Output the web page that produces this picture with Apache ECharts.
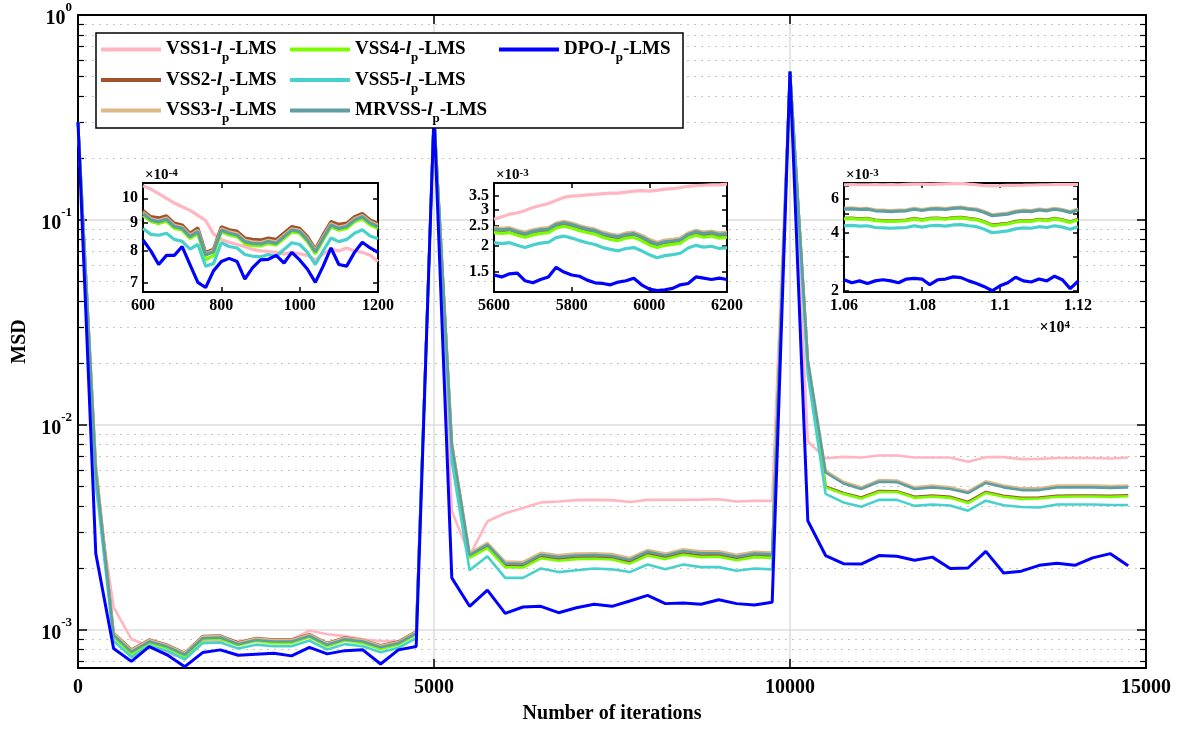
<!DOCTYPE html>
<html><head><meta charset="utf-8">
<script src="https://cdn.jsdelivr.net/npm/echarts@6/dist/echarts.min.js"></script>
<style>html,body{margin:0;padding:0;background:#fff}#c{width:1179px;height:729px}</style>
</head><body><div id="c"></div>
<script>
// ---------------- DATA ----------------
const seriesNames = ['VSS1','VSS2','VSS3','VSS4','VSS5','MRVSS','DPO'];
const seriesColors = ['#FFB6C1','#A0522D','#DEB887','#7CFC00','#48D1CC','#5F9EA0','#0000FF'];

const iterMain = Array.from({length:60}, (_, i) => i * 250);
const xTicksMain = [0, 5000, 10000, 15000];
const yMajorMain = [1e-3, 1e-2, 1e-1, 1];
const yMinorMain = [7e-4,8e-4,9e-4,2e-3,3e-3,4e-3,5e-3,6e-3,7e-3,8e-3,9e-3,2e-2,3e-2,4e-2,5e-2,6e-2,7e-2,8e-2,9e-2,0.2,0.3,0.4,0.5,0.6,0.7,0.8,0.9];

const mainVSS1 = [0.3,5.0e-3,1.29e-3,9.0e-4,8.3e-4,7.7e-4,7.25e-4,8.8e-4,8.8e-4,8.8e-4,8.95e-4,8.97e-4,8.95e-4,9.9e-4,9.5e-4,9.3e-4,8.97e-4,8.8e-4,8.8e-4,9.4e-4,
 0.33,3.8e-3,2.3e-3,3.38e-3,3.7e-3,3.92e-3,4.18e-3,4.22e-3,4.29e-3,4.3e-3,4.29e-3,4.2e-3,4.3e-3,4.3e-3,4.3e-3,4.31e-3,4.33e-3,4.22e-3,4.25e-3,4.25e-3,
 0.53,8.3e-3,6.86e-3,6.97e-3,6.92e-3,7.08e-3,7.08e-3,6.92e-3,6.92e-3,6.92e-3,6.6e-3,6.95e-3,6.95e-3,6.8e-3,6.82e-3,6.88e-3,6.88e-3,6.88e-3,6.84e-3,6.92e-3];
const mainVSS2 = [0.3,6.2e-3,9.65e-4,8.0e-4,8.95e-4,8.45e-4,7.7e-4,9.3e-4,9.35e-4,8.65e-4,9.1e-4,8.95e-4,8.95e-4,9.5e-4,8.6e-4,9.15e-4,8.9e-4,8.4e-4,8.75e-4,9.8e-4,
 0.33,8.1e-3,2.28e-3,2.55e-3,2.06e-3,2.05e-3,2.27e-3,2.21e-3,2.25e-3,2.26e-3,2.24e-3,2.14e-3,2.34e-3,2.25e-3,2.36e-3,2.3e-3,2.31e-3,2.22e-3,2.3e-3,2.28e-3,
 0.53,2.05e-2,5.0e-3,4.65e-3,4.42e-3,4.75e-3,4.74e-3,4.45e-3,4.52e-3,4.45e-3,4.2e-3,4.7e-3,4.5e-3,4.4e-3,4.42e-3,4.5e-3,4.52e-3,4.52e-3,4.5e-3,4.53e-3];
const mainVSS3 = [0.3,6.5e-3,9.6e-4,7.95e-4,8.9e-4,8.4e-4,7.65e-4,9.25e-4,9.3e-4,8.6e-4,9.05e-4,8.9e-4,8.9e-4,9.45e-4,8.55e-4,9.1e-4,8.9e-4,8.35e-4,8.7e-4,9.75e-4,
 0.33,8.3e-3,2.36e-3,2.65e-3,2.15e-3,2.14e-3,2.37e-3,2.31e-3,2.35e-3,2.36e-3,2.34e-3,2.24e-3,2.45e-3,2.35e-3,2.47e-3,2.41e-3,2.41e-3,2.32e-3,2.4e-3,2.38e-3,
 0.53,2.1e-2,5.95e-3,5.27e-3,4.95e-3,5.37e-3,5.35e-3,4.95e-3,5.05e-3,4.95e-3,4.73e-3,5.3e-3,5.05e-3,4.9e-3,4.9e-3,5.05e-3,5.05e-3,5.05e-3,5.02e-3,5.05e-3];
const mainVSS4 = [0.3,5.8e-3,9.2e-4,7.6e-4,8.6e-4,8.15e-4,7.4e-4,8.95e-4,9.0e-4,8.4e-4,8.8e-4,8.6e-4,8.6e-4,9.2e-4,8.3e-4,8.85e-4,8.6e-4,8.05e-4,8.45e-4,9.45e-4,
 0.33,7.5e-3,2.24e-3,2.5e-3,2.02e-3,2.01e-3,2.23e-3,2.17e-3,2.21e-3,2.22e-3,2.2e-3,2.1e-3,2.3e-3,2.21e-3,2.32e-3,2.26e-3,2.27e-3,2.18e-3,2.26e-3,2.24e-3,
 0.53,1.9e-2,4.95e-3,4.6e-3,4.37e-3,4.7e-3,4.7e-3,4.4e-3,4.47e-3,4.4e-3,4.15e-3,4.65e-3,4.45e-3,4.35e-3,4.37e-3,4.45e-3,4.47e-3,4.47e-3,4.45e-3,4.48e-3];
const mainVSS5 = [0.3,5.2e-3,8.8e-4,7.35e-4,8.35e-4,7.9e-4,7.15e-4,8.6e-4,8.65e-4,8.1e-4,8.45e-4,8.3e-4,8.3e-4,8.85e-4,8.0e-4,8.5e-4,8.3e-4,7.75e-4,8.15e-4,9.1e-4,
 0.33,6.6e-3,1.95e-3,2.28e-3,1.79e-3,1.79e-3,1.99e-3,1.91e-3,1.95e-3,1.99e-3,1.97e-3,1.91e-3,2.08e-3,1.97e-3,2.08e-3,2.02e-3,2.02e-3,1.94e-3,1.99e-3,1.97e-3,
 0.53,1.75e-2,4.6e-3,4.18e-3,3.98e-3,4.3e-3,4.3e-3,4.02e-3,4.08e-3,4.04e-3,3.81e-3,4.26e-3,4.05e-3,3.97e-3,3.95e-3,4.08e-3,4.08e-3,4.08e-3,4.06e-3,4.06e-3];
const mainMRVSS = [0.3,6.0e-3,9.4e-4,7.8e-4,8.75e-4,8.27e-4,7.54e-4,9.08e-4,9.15e-4,8.49e-4,8.91e-4,8.75e-4,8.75e-4,9.31e-4,8.43e-4,8.97e-4,8.75e-4,8.2e-4,8.59e-4,9.6e-4,
 0.33,8.0e-3,2.31e-3,2.6e-3,2.1e-3,2.09e-3,2.32e-3,2.26e-3,2.3e-3,2.31e-3,2.29e-3,2.19e-3,2.4e-3,2.3e-3,2.42e-3,2.36e-3,2.36e-3,2.27e-3,2.35e-3,2.33e-3,
 0.53,2.05e-2,5.85e-3,5.17e-3,4.86e-3,5.27e-3,5.25e-3,4.86e-3,4.95e-3,4.86e-3,4.64e-3,5.2e-3,4.95e-3,4.8e-3,4.8e-3,4.95e-3,4.95e-3,4.95e-3,4.92e-3,4.95e-3];
const mainDPO = [0.3,2.35e-3,8.1e-4,7.0e-4,8.27e-4,7.54e-4,6.6e-4,7.73e-4,7.97e-4,7.5e-4,7.59e-4,7.67e-4,7.45e-4,8.2e-4,7.62e-4,7.9e-4,7.97e-4,6.8e-4,7.97e-4,8.27e-4,
 0.33,1.79e-3,1.30e-3,1.56e-3,1.2e-3,1.29e-3,1.30e-3,1.21e-3,1.28e-3,1.33e-3,1.30e-3,1.38e-3,1.47e-3,1.34e-3,1.35e-3,1.33e-3,1.40e-3,1.34e-3,1.32e-3,1.36e-3,
 0.53,3.4e-3,2.3e-3,2.1e-3,2.09e-3,2.3e-3,2.28e-3,2.18e-3,2.26e-3,1.99e-3,2.0e-3,2.41e-3,1.89e-3,1.93e-3,2.06e-3,2.11e-3,2.06e-3,2.24e-3,2.35e-3,2.05e-3];

// Inset 1: iterations 600..1200, values in x1e-4
const iterInset1 = Array.from({length:31}, (_, i) => 600 + i * 20);
const inset1YTicks = [7, 8, 9, 10];
const in1VSS1 = [10.55,10.4,10.2,10.0,9.8,9.65,9.5,9.3,9.1,8.6,8.4,8.3,8.22,8.15,8.05,8.0,7.98,7.95,7.9,7.95,7.9,7.85,7.7,7.9,8.05,8.0,8.1,8.0,7.95,7.85,7.65];
const in1VSS2 = [9.5,9.25,9.2,9.28,9.0,8.93,8.62,8.82,7.95,8.06,8.86,8.75,8.7,8.45,8.4,8.38,8.45,8.4,8.63,8.87,8.8,8.5,8.06,8.57,9.06,8.95,9.0,9.25,9.38,9.12,9.0];
const in1VSS3 = [9.43,9.17,9.1,9.2,8.92,8.85,8.55,8.73,7.9,8.01,8.79,8.67,8.61,8.37,8.31,8.29,8.37,8.31,8.55,8.79,8.73,8.43,8.02,8.49,8.98,8.85,8.92,9.17,9.3,9.05,8.92];
const in1VSS4 = [9.3,9.06,8.98,9.08,8.8,8.74,8.44,8.6,7.7,7.85,8.68,8.56,8.5,8.25,8.18,8.17,8.26,8.2,8.43,8.67,8.62,8.31,7.9,8.38,8.86,8.73,8.8,9.05,9.17,8.93,8.8];
const in1VSS5 = [8.8,8.58,8.55,8.62,8.4,8.33,8.06,8.22,7.5,7.58,8.28,8.15,8.1,7.88,7.82,7.8,7.88,7.82,8.05,8.28,8.22,7.95,7.55,8.0,8.45,8.32,8.4,8.62,8.75,8.52,8.42];
const in1MRVSS = [9.38,9.12,9.05,9.15,8.87,8.8,8.5,8.68,7.86,7.97,8.74,8.62,8.56,8.32,8.26,8.24,8.32,8.26,8.5,8.74,8.68,8.38,7.97,8.44,8.93,8.8,8.87,9.12,9.25,9.0,8.87];
const in1DPO = [8.38,8.0,7.55,7.85,7.85,8.15,7.55,7.0,6.85,7.35,7.65,7.75,7.65,7.1,7.45,7.7,7.72,7.85,7.6,7.95,7.7,7.4,7.0,7.5,8.1,7.55,7.5,7.95,8.3,8.1,7.95];

// Inset 2: iterations 5600..6200, values in x1e-3
const iterInset2 = Array.from({length:31}, (_, i) => 5600 + i * 20);
const inset2YTicks = [1.5, 2, 2.5, 3, 3.5];
const inset2YLabels = [1.5, 2, 2.5, 3];
const inset2YLabelsTop = [3.5];
const in2VSS1 = [2.7,2.78,2.86,2.9,2.98,3.08,3.15,3.22,3.33,3.45,3.5,3.52,3.55,3.57,3.6,3.62,3.62,3.66,3.7,3.72,3.7,3.73,3.78,3.8,3.85,3.9,3.93,3.95,3.97,3.97,4.0];
const in2VSS2 = [2.38,2.36,2.38,2.31,2.26,2.32,2.36,2.38,2.5,2.55,2.5,2.44,2.38,2.34,2.26,2.21,2.18,2.24,2.26,2.18,2.08,2.01,2.06,2.08,2.11,2.24,2.31,2.26,2.29,2.24,2.26];
const in2VSS3 = [2.46,2.44,2.46,2.39,2.34,2.4,2.44,2.46,2.59,2.64,2.59,2.52,2.46,2.42,2.34,2.29,2.26,2.32,2.34,2.26,2.16,2.09,2.14,2.16,2.19,2.32,2.39,2.34,2.37,2.32,2.34];
const in2VSS4 = [2.33,2.31,2.33,2.26,2.21,2.27,2.31,2.33,2.45,2.5,2.45,2.38,2.33,2.29,2.21,2.16,2.13,2.19,2.21,2.13,2.03,1.97,2.02,2.04,2.07,2.2,2.26,2.21,2.24,2.19,2.21];
const in2VSS5 = [2.08,2.06,2.08,2.02,1.97,2.03,2.07,2.09,2.2,2.24,2.19,2.13,2.08,2.04,1.97,1.93,1.9,1.95,1.97,1.9,1.82,1.76,1.8,1.82,1.85,1.96,2.02,1.98,2.0,1.95,1.97];
const in2MRVSS = [2.42,2.4,2.42,2.35,2.3,2.36,2.4,2.42,2.55,2.6,2.55,2.48,2.42,2.38,2.3,2.25,2.22,2.28,2.3,2.22,2.12,2.05,2.1,2.12,2.15,2.28,2.35,2.3,2.33,2.28,2.3];
const in2DPO = [1.45,1.42,1.47,1.48,1.36,1.33,1.38,1.42,1.58,1.5,1.45,1.43,1.37,1.33,1.32,1.3,1.34,1.36,1.4,1.3,1.24,1.22,1.23,1.25,1.3,1.32,1.42,1.4,1.38,1.4,1.38];

// Inset 3: iterations 10600..11200, values in x1e-3
const iterInset3 = Array.from({length:31}, (_, i) => 10600 + i * 20);
const inset3YTicks = [2, 3, 4, 5, 6, 7];
const inset3YLabels = [2, 4, 6];
const in3VSS1 = [7.1,7.12,7.1,7.1,7.11,7.1,7.12,7.1,7.13,7.15,7.15,7.14,7.16,7.18,7.2,7.22,7.15,7.1,7.02,7.0,7.02,7.05,7.05,7.06,7.08,7.1,7.1,7.12,7.12,7.12,7.12];
const in3VSS2 = [4.75,4.77,4.73,4.75,4.65,4.63,4.61,4.63,4.65,4.75,4.67,4.75,4.77,4.73,4.79,4.81,4.75,4.7,4.56,4.39,4.43,4.48,4.58,4.63,4.61,4.7,4.65,4.75,4.67,4.56,4.7];
const in3VSS3 = [5.36,5.38,5.34,5.36,5.26,5.24,5.21,5.24,5.26,5.36,5.28,5.36,5.38,5.34,5.41,5.44,5.36,5.31,5.16,4.96,5.01,5.06,5.18,5.24,5.21,5.31,5.26,5.36,5.28,5.16,5.31];
const in3VSS4 = [4.72,4.74,4.7,4.72,4.62,4.6,4.58,4.6,4.62,4.72,4.64,4.72,4.74,4.7,4.76,4.78,4.72,4.67,4.53,4.36,4.4,4.45,4.55,4.6,4.58,4.67,4.62,4.72,4.64,4.53,4.67];
const in3VSS5 = [4.35,4.37,4.33,4.35,4.26,4.24,4.22,4.24,4.26,4.35,4.28,4.35,4.37,4.33,4.39,4.41,4.35,4.3,4.17,4.0,4.04,4.09,4.19,4.24,4.22,4.3,4.26,4.35,4.28,4.17,4.3];
const in3MRVSS = [5.3,5.32,5.28,5.3,5.2,5.18,5.15,5.18,5.2,5.3,5.22,5.3,5.32,5.28,5.35,5.38,5.3,5.25,5.1,4.9,4.95,5.0,5.12,5.18,5.15,5.25,5.2,5.3,5.22,5.1,5.25];
const in3DPO = [2.28,2.2,2.25,2.18,2.25,2.28,2.25,2.2,2.3,2.32,2.3,2.15,2.28,2.3,2.36,2.34,2.25,2.18,2.1,2.0,2.12,2.2,2.35,2.25,2.22,2.3,2.25,2.38,2.28,2.05,2.24];

// ---------------- CHART ----------------
const FONT = 'Liberation Serif';
const mainData = [mainVSS1, mainVSS2, mainVSS3, mainVSS4, mainVSS5, mainMRVSS, mainDPO];
const in1Data = [in1VSS1, in1VSS2, in1VSS3, in1VSS4, in1VSS5, in1MRVSS, in1DPO];
const in2Data = [in2VSS1, in2VSS2, in2VSS3, in2VSS4, in2VSS5, in2MRVSS, in2DPO];
const in3Data = [in3VSS1, in3VSS2, in3VSS3, in3VSS4, in3VSS5, in3MRVSS, in3DPO];

const boldTxt = (size) => ({fontFamily: FONT, fontWeight: 'bold', fontSize: size, color: '#000'});
const blackLine = {show: true, lineStyle: {color: '#000', width: 2}};

const grids = [
  {left: 78, top: 15, width: 1068, height: 656},
  {left: 143, top: 183, width: 235, height: 109, show: true, backgroundColor: '#fff', borderWidth: 0, z: 1},
  {left: 494, top: 183, width: 233, height: 109, show: true, backgroundColor: '#fff', borderWidth: 0, z: 1},
  {left: 844, top: 183, width: 234, height: 109, show: true, backgroundColor: '#fff', borderWidth: 0, z: 1}
];

const xAxes = [
  {type: 'value', gridIndex: 0, min: 0, max: 15000, interval: 5000, position: 'bottom',
   axisLine: blackLine, axisTick: {show: true, inside: true, length: 9, lineStyle: {color: '#000', width: 1.5}},
   axisLabel: Object.assign({margin: 10, formatter: v => String(v)}, boldTxt(20)),
   splitLine: {show: true, lineStyle: {color: '#dcdcdc', width: 1.5}},
   name: 'Number of iterations', nameLocation: 'middle', nameGap: 36, nameTextStyle: boldTxt(20)},
  {type: 'value', gridIndex: 0, min: 0, max: 15000, interval: 5000, position: 'top',
   axisLine: blackLine, axisTick: {show: true, inside: true, length: 9, lineStyle: {color: '#000', width: 1.5}},
   axisLabel: {show: false}, splitLine: {show: false}}
];
function insetX(gi, min, max, fmt, name) {
  const common = {type: 'value', gridIndex: gi, min: min, max: max, interval: 200, z: 2,
    axisLine: blackLine, axisTick: {show: true, inside: true, length: 5, lineStyle: {color: '#000', width: 1.5}},
    splitLine: {show: false}};
  const bottom = Object.assign({}, common, {position: 'bottom',
    axisLabel: Object.assign({margin: 6, formatter: fmt, showMinLabel: true, showMaxLabel: true}, boldTxt(16))});
  if (name) {
    bottom.name = name; bottom.nameLocation = 'end'; bottom.nameGap = 0;
    bottom.nameTextStyle = {align: 'right', verticalAlign: 'top', padding: [28, 8, 0, 0],
      rich: {t: boldTxt(16), s: Object.assign({verticalAlign: 'top', lineHeight: 12}, boldTxt(11))}};
  }
  const top = Object.assign({}, common, {position: 'top', axisLabel: {show: false}});
  return [bottom, top];
}
xAxes.push(...insetX(1, 600, 1200, v => String(v)));
xAxes.push(...insetX(2, 5600, 6200, v => String(v)));
xAxes.push(...insetX(3, 10600, 11200, v => String(+(v / 1e4).toFixed(2)), '{t|×10}{s|4}'));

const supRich = {
  b: Object.assign({lineHeight: 28, verticalAlign: 'bottom'}, boldTxt(20)),
  s: Object.assign({lineHeight: 14, verticalAlign: 'top'}, boldTxt(13))
};
const yMin = 6.5e-4, yMax = 1;
const yAxes = [
  {type: 'log', logBase: 10, gridIndex: 0, min: yMin, max: yMax, position: 'left',
   axisLine: blackLine,
   axisTick: {show: true, inside: true, length: 9, customValues: yMajorMain, lineStyle: {color: '#000', width: 1.5}},
   axisLabel: {show: true, customValues: yMajorMain, margin: 6, showMinLabel: true, showMaxLabel: true,
     formatter: v => '{b|10}{s|' + Math.round(Math.log10(v)) + '}', rich: supRich},
   splitLine: {show: true, lineStyle: {color: '#dcdcdc', width: 1.5}},
   name: 'MSD', nameLocation: 'middle', nameGap: 48, nameTextStyle: boldTxt(20)},
  {type: 'log', logBase: 10, gridIndex: 0, min: yMin, max: yMax, position: 'left',
   axisLine: {show: false},
   axisTick: {show: true, inside: true, length: 6, customValues: yMinorMain, lineStyle: {color: '#000', width: 1.2}},
   axisLabel: {show: false},
   splitLine: {show: true, lineStyle: {color: '#c4c4c4', width: 1.2, type: [2, 5]}}},
  {type: 'log', logBase: 10, gridIndex: 0, min: yMin, max: yMax, position: 'right',
   axisLine: blackLine,
   axisTick: {show: true, inside: true, length: 9, customValues: yMajorMain, lineStyle: {color: '#000', width: 1.5}},
   axisLabel: {show: false}, splitLine: {show: false}},
  {type: 'log', logBase: 10, gridIndex: 0, min: yMin, max: yMax, position: 'right',
   axisLine: {show: false},
   axisTick: {show: true, inside: true, length: 6, customValues: yMinorMain, lineStyle: {color: '#000', width: 1.2}},
   axisLabel: {show: false}, splitLine: {show: false}}
];
const insetLabelStyle = (labels) => Object.assign({show: true, customValues: labels, margin: 5,
  showMinLabel: true, showMaxLabel: true, hideOverlap: false, formatter: v => String(+v.toFixed(2))}, boldTxt(16));
function insetY(gi, min, max, ticks, labels, expo) {
  const left = {type: 'log', logBase: 10, gridIndex: gi, min: min, max: max, position: 'left', z: 2,
    axisLine: blackLine,
    axisTick: {show: true, inside: true, length: 5, customValues: ticks, lineStyle: {color: '#000', width: 1.5}},
    axisLabel: insetLabelStyle(labels),
    splitLine: {show: false},
    name: '{t|×10}{s|' + expo + '}', nameLocation: 'end', nameGap: 0,
    nameTextStyle: {align: 'left', verticalAlign: 'bottom', padding: [0, 0, 0, 2],
      rich: {t: boldTxt(15), s: Object.assign({verticalAlign: 'top', lineHeight: 12}, boldTxt(11))}}};
  const right = {type: 'log', logBase: 10, gridIndex: gi, min: min, max: max, position: 'right', z: 2,
    axisLine: blackLine,
    axisTick: {show: true, inside: true, length: 5, customValues: ticks, lineStyle: {color: '#000', width: 1.5}},
    axisLabel: {show: false}, splitLine: {show: false}};
  return [left, right];
}
yAxes.push(...insetY(1, 6.72, 10.67, inset1YTicks, inset1YTicks, '-4'));
yAxes.push(...insetY(2, 1.2, 4.05, inset2YTicks, inset2YLabels, '-3'));
yAxes.push(...insetY(3, 1.97, 7.25, inset3YTicks, inset3YLabels, '-3'));
// extra label-only axis for the crowded top label of inset 2
yAxes.push({type: 'log', logBase: 10, gridIndex: 2, min: 1.2, max: 4.05, position: 'left', z: 2,
  axisLine: {show: false}, axisTick: {show: false, customValues: inset2YLabelsTop},
  axisLabel: insetLabelStyle(inset2YLabelsTop), splitLine: {show: false}});

const series = [];
seriesNames.forEach((name, k) => {
  const w = name === 'DPO' ? 3 : 2.6;
  series.push({type: 'line', name: name, xAxisIndex: 0, yAxisIndex: 0, showSymbol: false, symbol: 'none',
    color: seriesColors[k], lineStyle: {width: w, color: seriesColors[k]}, z: 2,
    data: iterMain.map((x, i) => [x, mainData[k][i]])});
});
const insetDefs = [[1, 2, 4, iterInset1, in1Data], [2, 4, 6, iterInset2, in2Data], [3, 6, 8, iterInset3, in3Data]];
insetDefs.forEach(([gi, xi, yi, iters, dataSet]) => {
  seriesNames.forEach((name, k) => {
    series.push({type: 'line', name: name, xAxisIndex: xi, yAxisIndex: yi, showSymbol: false, symbol: 'none',
      color: seriesColors[k], lineStyle: {width: 3.2, color: seriesColors[k]}, z: 3,
      data: iters.map((x, i) => [x, dataSet[k][i]])});
  });
});

const legendRich = {
  n: Object.assign({lineHeight: 30, verticalAlign: 'middle'}, boldTxt(19)),
  l: Object.assign({lineHeight: 30, verticalAlign: 'middle', fontStyle: 'italic'}, boldTxt(19)),
  p: Object.assign({lineHeight: 12, verticalAlign: 'bottom'}, boldTxt(13))
};
function mkLegend(left, names) {
  return {left: left, top: 40, orient: 'vertical', itemGap: 6, itemWidth: 60, itemHeight: 4,
    icon: 'rect', padding: 0, z: 6, selectedMode: false, data: names,
    textStyle: {fontFamily: FONT, fontWeight: 'bold', fontSize: 19, color: '#000', rich: legendRich},
    formatter: name => '{n|' + name + '-}{l|l}{p|p}{n|-LMS}'};
}

const option = {
  animation: false,
  backgroundColor: '#fff',
  grid: grids,
  xAxis: xAxes,
  yAxis: yAxes,
  legend: [mkLegend(101, ['VSS1','VSS2','VSS3']), mkLegend(290, ['VSS4','VSS5','MRVSS']), mkLegend(499, ['DPO'])],
  graphic: [{type: 'rect', z: 5, silent: true, shape: {x: 96, y: 33, width: 587, height: 95},
    style: {fill: '#fff', stroke: '#000', lineWidth: 1.5}}],
  series: series
};
const chart = echarts.init(document.getElementById('c'), null, {renderer: 'canvas'});
chart.setOption(option);
</script></body></html>
